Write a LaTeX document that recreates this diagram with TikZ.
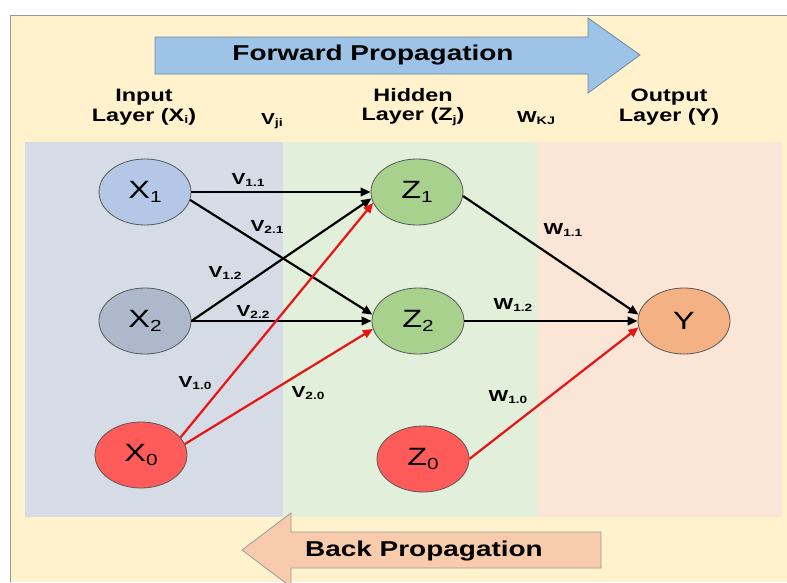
\documentclass[tikz,border=0pt]{standalone}
\usepackage{fontspec}
\setmainfont[FakeStretch=1.3]{Liberation Sans}
\usepackage{tikz}
\usetikzlibrary{arrows.meta,shapes.geometric}

\definecolor{pagebeige}{HTML}{FFF2CC}
\definecolor{inpanel}{HTML}{D6DCE5}
\definecolor{hidpanel}{HTML}{E2EFDA}
\definecolor{outpanel}{HTML}{FBE5D6}
\definecolor{inblue}{HTML}{B4C7E7}
\definecolor{ingrey}{HTML}{ADB9CA}
\definecolor{hidgreen}{HTML}{A9D18E}
\definecolor{outorange}{HTML}{F4B183}
\definecolor{biasfill}{HTML}{FF5B5B}
\definecolor{biasred}{HTML}{E81414}
\definecolor{fwdblue}{HTML}{9DC3E6}
\definecolor{backpeach}{HTML}{F8CBAD}

\newcommand{\lowsub}[2]{\raisebox{-0.3ex}{\fontsize{#1}{#1}\selectfont #2}}

\begin{document}
\begin{tikzpicture}[
  x=1pt, y=-1pt,
  neuron/.style={
    ellipse,
    draw=black!65,
    line width=0.8pt,
    minimum width=92pt,
    minimum height=66pt,
    inner sep=0pt,
    font=\fontsize{25}{25}\selectfont
  },
  wlabel/.style={font=\bfseries\fontsize{16}{16}\selectfont, inner sep=1pt},
  layerlabel/.style={font=\bfseries\fontsize{18}{19.5}\selectfont, align=center},
  bigtext/.style={font=\bfseries\fontsize{21.5}{22}\selectfont},
  line/.style={-{Triangle[length=10pt,width=8.5pt]}, line width=2.2pt},
  bias/.style={line, draw=biasred}
]
\useasboundingbox (0,0) rectangle (787,582);
\clip (0,0) rectangle (787,582);

% background and layer panels
\fill[white] (0,0) rectangle (787,582);
\fill[pagebeige] (10,15) rectangle (787,582);
\draw[black!40, line width=1pt] (10,582) -- (10,15) -- (787,15);
\fill[inpanel] (25,142) rectangle (283,517);
\fill[hidpanel] (283,142) rectangle (538,517);
\fill[outpanel] (538,142) rectangle (782,517);

% propagation arrows
\draw[fill=fwdblue, draw=fwdblue!70!black, line width=0.8pt]
  (155,37) -- (588,37) -- (588,18) -- (640,55) -- (588,93) -- (588,74) -- (155,74) -- cycle;
\node[bigtext] (fwdtext) at (373,55) {Forward Propagation};
\draw[fill=backpeach, draw=black!40, line width=0.8pt]
  (601,532) -- (291,532) -- (291,513) -- (242,550) -- (291,587) -- (291,568) -- (601,568) -- cycle;
\node[bigtext] (backtext) at (424,551) {Back Propagation};

% layer headings
\node[layerlabel] (inlab) at (144,107) {Input\\Layer (X\lowsub{11}{i})};
\node[wlabel] (vji) at (272,121) {V\lowsub{11}{ji}};
\node[layerlabel] (hidlab) at (413,107) {Hidden\\Layer (Z\lowsub{11}{j})};
\node[wlabel] (wkj) at (536,118) {W\lowsub{11}{KJ}};
\node[layerlabel] (outlab) at (669,107) {Output\\Layer (Y)};

% neurons
\node[neuron, fill=inblue] (X1) at (145,192) {X\lowsub{16}{1}};
\node[neuron, fill=ingrey] (X2) at (145,321) {X\lowsub{16}{2}};
\node[neuron, fill=biasfill] (X0) at (141,455) {X\lowsub{16}{0}};
\node[neuron, fill=hidgreen] (Z1) at (417,192) {Z\lowsub{16}{1}};
\node[neuron, fill=hidgreen] (Z2) at (418,321) {Z\lowsub{16}{2}};
\node[neuron, fill=biasfill] (Z0) at (423,459) {Z\lowsub{16}{0}};
\node[neuron, fill=outorange] (Y) at (684,321) {Y};

% weights input -> hidden
\draw[line] (X1.east) -- (Z1.west);
\draw[line] (X1.350) -- (Z2.172);
\draw[line] (X2.east) -- (Z1.188);
\draw[line] (X2.east) -- (Z2.west);
\draw[bias] (X0.24) -- (Z1.194);
\draw[bias] (X0.14) -- (Z2.190);

% weights hidden -> output
\draw[line] (Z1.355) -- (Y.172);
\draw[line] (Z2.east) -- (Y.west);
\draw[bias] (Z0.east) -- (Y.188);

% weight labels
\node[wlabel] (v11) at (248,180) {V\lowsub{10.5}{1.1}};
\node[wlabel] (v21) at (267,227) {V\lowsub{10.5}{2.1}};
\node[wlabel] (v12) at (225,273) {V\lowsub{10.5}{1.2}};
\node[wlabel] (v22) at (253,312) {V\lowsub{10.5}{2.2}};
\node[wlabel] (v10) at (195,383) {V\lowsub{10.5}{1.0}};
\node[wlabel] (v20) at (308,393) {V\lowsub{10.5}{2.0}};
\node[wlabel] (w11) at (563,230) {W\lowsub{10.5}{1.1}};
\node[wlabel] (w12) at (513,305) {W\lowsub{10.5}{1.2}};
\node[wlabel] (w10) at (508,397) {W\lowsub{10.5}{1.0}};
\end{tikzpicture}
\end{document}
